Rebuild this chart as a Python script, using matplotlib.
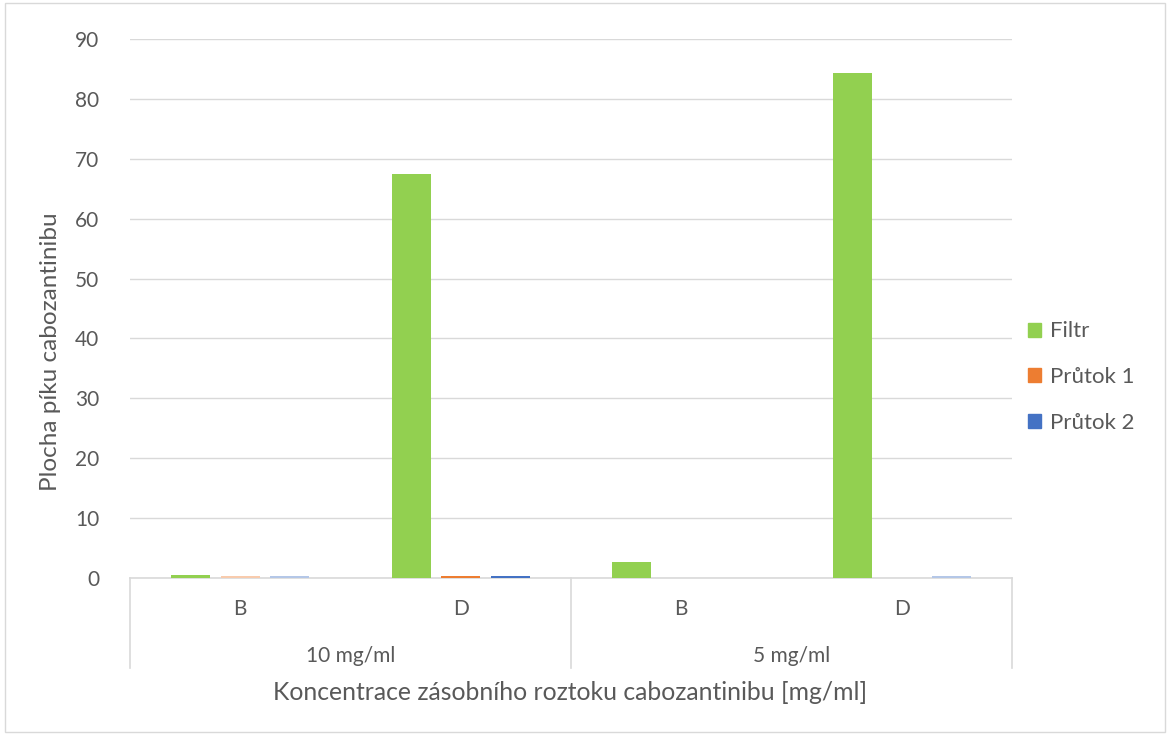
import numpy as np
from matplotlib import pyplot as plt
from matplotlib.patches import Patch, Rectangle
from matplotlib.lines import Line2D

# data
groups = ['10 mg/ml', '5 mg/ml']
samples = ['B', 'D', 'B', 'D']
series = ['Filtr', 'Průtok 1', 'Průtok 2']
filtr = [0.55, 67.5, 2.65, 84.3]
prutok1 = [0.35, 0.4, 0.05, 0.03]
prutok2 = [0.35, 0.4, 0.05, 0.3]

colors = ['#92d050', '#ed7d31', '#4472c4']
pale = ['#c9e8a8', '#f8cbad', '#b4c7e7']
# which points are drawn pale in the original (per series)
pale_mask = [
  [False, False, False, False],
  [True, False, True, True],
  [True, False, True, True],
]

plt.rcParams['font.family'] = ['Lato', 'DejaVu Sans']
txtc = '#595959'

fig = plt.figure(figsize=(11.7, 7.35), dpi=100)
ax = fig.add_axes([130/1170, 1 - 578/735, 882/1170, 539/735])

x = np.arange(len(samples))
pitch = 0.2245
width = 0.177
vals = [filtr, prutok1, prutok2]
for k in range(3):
  for i in range(len(samples)):
    c = pale[k] if pale_mask[k][i] else colors[k]
    ax.bar(x[i] + (k - 1)*pitch, vals[k][i], width, color=c, zorder=3)

ax.set_xlim(-0.5, 3.5)
ax.set_ylim(0, 90)
ax.set_yticks(np.arange(0, 91, 10))
ax.yaxis.grid(True, color='#d9d9d9', linewidth=1)
ax.set_axisbelow(True)
for s in ['top', 'right', 'left']:
  ax.spines[s].set_visible(False)
ax.spines['bottom'].set_color('#d9d9d9')
ax.spines['bottom'].set_linewidth(1.2)
ax.tick_params(axis='y', length=0, labelsize=15, colors=txtc, pad=22)
ax.set_xticks([])
for lab in ax.get_yticklabels():
  lab.set_color(txtc)

ax.set_ylabel('Plocha píku cabozantinibu', fontsize=17.5, color=txtc)
ax.yaxis.set_label_coords(-0.078, 0.419)

# two-level category axis
tr = ax.get_xaxis_transform()
for i, s in enumerate(samples):
  ax.text(x[i], -0.058, s, transform=tr, ha='center', va='center', fontsize=15, color=txtc)
for j, g in enumerate(groups):
  ax.text(0.5 + 2*j, -0.145, g, transform=tr, ha='center', va='center', fontsize=15, color=txtc)
for xv in [-0.5, 1.5, 3.5]:
  ax.add_line(Line2D([xv, xv], [0, -0.167], transform=tr, color='#d9d9d9', linewidth=1.2, clip_on=False))

fig.text(570/1170, 1 - 692/735, 'Koncentrace zásobního roztoku cabozantinibu [mg/ml]',
         ha='center', va='center', fontsize=17.8, color=txtc)

handles = [Patch(color=c) for c in colors]
leg = fig.legend(handles, series, loc='center left', bbox_to_anchor=(1008/1170, 1 - 377/735),
                 frameon=False, fontsize=16, handlelength=0.6, handleheight=0.6,
                 labelspacing=1.15, handletextpad=0.4)
for t in leg.get_texts():
  t.set_color(txtc)

# outer border
fig.patches.append(Rectangle((0.004, 0.004), 0.992, 0.992, transform=fig.transFigure,
                             fill=False, edgecolor='#d9d9d9', linewidth=1))

fig.savefig('out.png', dpi=100)
